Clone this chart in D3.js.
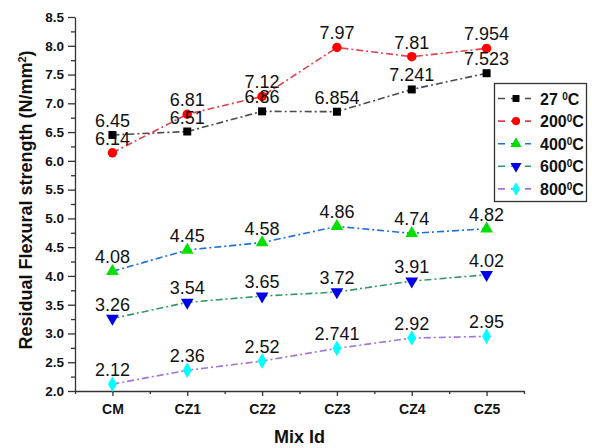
<!DOCTYPE html>
<html>
<head>
<meta charset="utf-8">
<script src="https://cdn.jsdelivr.net/npm/d3@7"></script>
<style>
  body { margin: 0; background: #fff; }
  svg { display: block; font-family: "Liberation Sans", Arial, sans-serif; }
</style>
</head>
<body>
<svg id="chart" width="592" height="448"></svg>
<script>
const mixIds = ["CM", "CZ1", "CZ2", "CZ3", "CZ4", "CZ5"];
const yTicks = [2.0, 2.5, 3.0, 3.5, 4.0, 4.5, 5.0, 5.5, 6.0, 6.5, 7.0, 7.5, 8.0, 8.5];

const temp27 = [6.45, 6.51, 6.86, 6.854, 7.241, 7.523];
const temp200 = [6.14, 6.81, 7.12, 7.97, 7.81, 7.954];
const temp400 = [4.08, 4.45, 4.58, 4.86, 4.74, 4.82];
const temp600 = [3.26, 3.54, 3.65, 3.72, 3.91, 4.02];
const temp800 = [2.12, 2.36, 2.52, 2.741, 2.92, 2.95];

// label text as printed on the chart
const labels27 = ["6.45", "6.51", "6.86", "6.854", "7.241", "7.523"];
const labels200 = ["6.14", "6.81", "7.12", "7.97", "7.81", "7.954"];
const labels400 = ["4.08", "4.45", "4.58", "4.86", "4.74", "4.82"];
const labels600 = ["3.26", "3.54", "3.65", "3.72", "3.91", "4.02"];
const labels800 = ["2.12", "2.36", "2.52", "2.741", "2.92", "2.95"];

const series = [
  { name: "27", gap: true, values: temp27, labels: labels27, line: "#4a4a4a", fill: "#000000", symbol: d3.symbolSquare, size: 64, rot: 0 },
  { name: "200", values: temp200, labels: labels200, line: "#e2404e", fill: "#ff0000", symbol: d3.symbolCircle, size: 70, rot: 0 },
  { name: "400", values: temp400, labels: labels400, line: "#1f6fd6", fill: "#00e000", symbol: d3.symbolTriangle, size: 70, rot: 0 },
  { name: "600", values: temp600, labels: labels600, line: "#2f9a68", fill: "#0000e8", symbol: d3.symbolTriangle, size: 70, rot: 180 },
  { name: "800", values: temp800, labels: labels800, line: "#a074d8", fill: "#00ffff", symbol: d3.symbolDiamond, size: 70, rot: 0 }
];

const svg = d3.select("#chart");
const x = d3.scaleLinear().domain([-0.5, mixIds.length - 0.5]).range([75, 524]);
const y = d3.scaleLinear().domain([2, 8.5]).range([391, 17]);

// axes
const xAxis = svg.append("g").attr("transform", "translate(0,391)")
  .call(d3.axisBottom(x).tickValues(d3.range(mixIds.length)).tickFormat(i => mixIds[i])
    .tickSize(5).tickSizeOuter(0).tickPadding(8));
xAxis.append("g").call(d3.axisBottom(x).tickValues(d3.range(-0.5, mixIds.length, 1))
  .tickFormat("").tickSize(3).tickSizeOuter(0)).select(".domain").remove();
xAxis.selectAll("text").style("font-size", "14px").style("font-weight", "bold").attr("fill", "#111");

const yAxis = svg.append("g").attr("transform", "translate(75,0)")
  .call(d3.axisLeft(y).tickValues(yTicks).tickFormat(d3.format(".1f"))
    .tickSize(7).tickSizeOuter(0).tickPadding(4));
yAxis.append("g").call(d3.axisLeft(y).tickValues(yTicks.slice(1).map(v => v - 0.25))
  .tickFormat("").tickSize(4).tickSizeOuter(0)).select(".domain").remove();
yAxis.selectAll("text").style("font-size", "13.5px").style("font-weight", "bold").attr("fill", "#111");

svg.selectAll(".domain, .tick line").attr("stroke", "#333").attr("stroke-width", 1.3);

// axis titles
svg.append("text")
  .attr("x", 299.5).attr("y", 443)
  .attr("text-anchor", "middle")
  .style("font-size", "18px").style("font-weight", "bold").attr("fill", "#111")
  .text("Mix Id");

const yTitle = svg.append("text")
  .attr("transform", "translate(32,200) rotate(-90)")
  .attr("text-anchor", "middle")
  .style("font-size", "18px").style("font-weight", "bold").attr("fill", "#111");
yTitle.append("tspan").text("Residual Flexural strength (N/mm");
yTitle.append("tspan").attr("baseline-shift", "super").style("font-size", "11px").text("2");
yTitle.append("tspan").text(")");

// lines, markers and value labels
const line = d3.line().x((d, i) => x(i)).y(d => y(d));

series.forEach(s => {
  svg.append("path")
    .datum(s.values)
    .attr("d", line)
    .attr("fill", "none")
    .attr("stroke", s.line)
    .attr("stroke-width", 1.6)
    .attr("stroke-dasharray", "7,3,2,3");
});

series.forEach(s => {
  svg.append("g").selectAll("path")
    .data(s.values)
    .join("path")
    .attr("d", d3.symbol(s.symbol, s.size))
    .attr("transform", (d, i) => `translate(${x(i)},${y(d)}) rotate(${s.rot})`)
    .attr("fill", s.fill);
});

series.forEach(s => {
  svg.append("g").selectAll("text")
    .data(s.values)
    .join("text")
    .attr("x", (d, i) => x(i))
    .attr("y", d => y(d) - 8)
    .attr("text-anchor", "middle")
    .style("font-size", "18px")
    .attr("fill", "#111")
    .text((d, i) => s.labels[i]);
});

// legend
const legend = svg.append("g");
legend.append("rect")
  .attr("x", 494.5).attr("y", 83.5)
  .attr("width", 92).attr("height", 118)
  .attr("fill", "#fff").attr("stroke", "#333").attr("stroke-width", 1.3);

series.forEach((s, i) => {
  const ly = 98.5 + i * 22.6;
  const item = legend.append("g");
  item.append("line")
    .attr("x1", 498).attr("x2", 533).attr("y1", ly).attr("y2", ly)
    .attr("stroke", s.line).attr("stroke-width", 1.6)
    .attr("stroke-dasharray", "7,6,0,0,0,0,7");
  item.append("path")
    .attr("d", d3.symbol(s.symbol, s.size * 0.75))
    .attr("transform", `translate(516,${ly}) rotate(${s.rot})`)
    .attr("fill", s.fill);
  const t = item.append("text")
    .attr("x", 540).attr("y", ly + 6)
    .style("font-size", "16px").style("font-weight", "bold").attr("fill", "#111");
  t.append("tspan").text(s.name + (s.gap ? " " : ""));
  t.append("tspan").attr("baseline-shift", "super").style("font-size", "10px").text("0");
  t.append("tspan").text("C");
});
</script>
</body>
</html>
